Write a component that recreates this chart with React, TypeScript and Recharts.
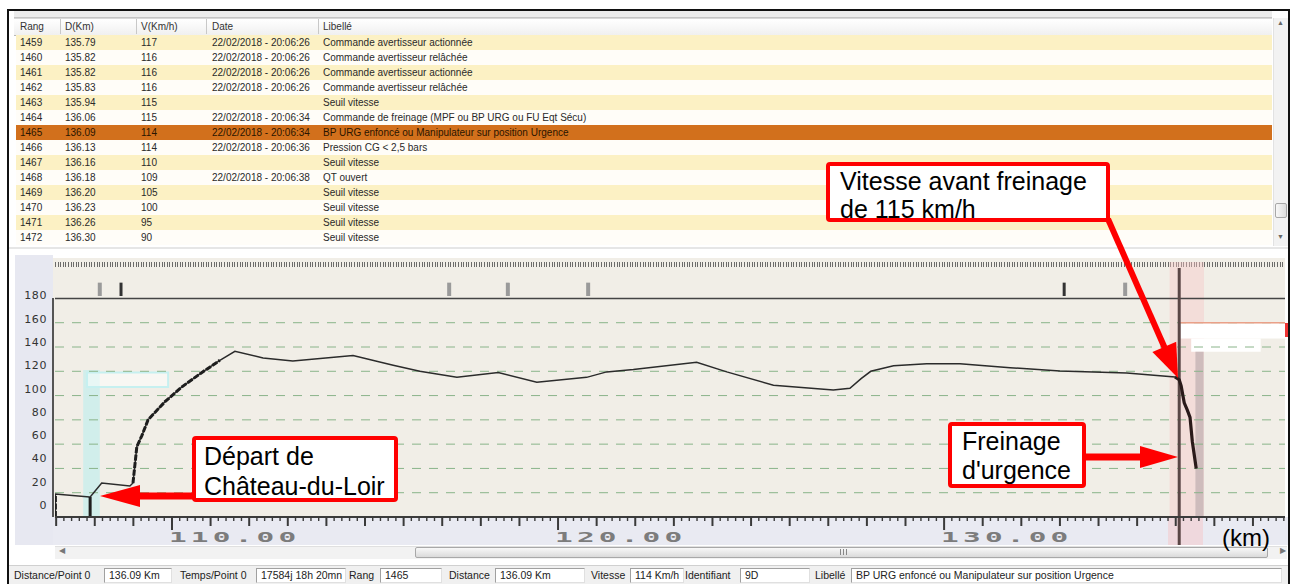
import React from "react";
import {
  Line,
  LineChart,
  ReferenceArea,
  ReferenceLine,
  XAxis,
  YAxis,
} from "recharts";

// event log rows
const rangs = ["1459", "1460", "1461", "1462", "1463", "1464", "1465", "1466", "1467", "1468", "1469", "1470", "1471", "1472"];
const distances = ["135.79", "135.82", "135.82", "135.83", "135.94", "136.06", "136.09", "136.13", "136.16", "136.18", "136.20", "136.23", "136.26", "136.30"];
const vitesses = ["117", "116", "116", "116", "115", "115", "114", "114", "110", "109", "105", "100", "95", "90"];
const dates = [
  "22/02/2018 - 20:06:26",
  "22/02/2018 - 20:06:26",
  "22/02/2018 - 20:06:26",
  "22/02/2018 - 20:06:26",
  "",
  "22/02/2018 - 20:06:34",
  "22/02/2018 - 20:06:34",
  "22/02/2018 - 20:06:36",
  "",
  "22/02/2018 - 20:06:38",
  "",
  "",
  "",
  "",
];
const libelles = [
  "Commande avertisseur actionnée",
  "Commande avertisseur relâchée",
  "Commande avertisseur actionnée",
  "Commande avertisseur relâchée",
  "Seuil vitesse",
  "Commande de freinage (MPF ou BP URG ou FU Eqt Sécu)",
  "BP URG enfoncé ou Manipulateur sur position Urgence",
  "Pression CG < 2,5 bars",
  "Seuil vitesse",
  "QT ouvert",
  "Seuil vitesse",
  "Seuil vitesse",
  "Seuil vitesse",
  "Seuil vitesse",
];
const headers = ["Rang", "D(Km)", "V(Km/h)", "Date", "Libellé"];
const selectedRang = "1465";

// speed trace (km, km/h)
const kmPoints = [
  106.98, 106.98, 107.87, 107.88, 107.88, 107.88, 108.18, 108.91, 108.99, 109.09,
  109.22, 109.38, 109.82, 110.25, 110.73, 111.24, 111.63, 112.36, 113.13, 114.69,
  115.73, 116.42, 117.38, 118.45, 119.45, 120.74, 121.26, 121.95, 123.59, 124.37,
  125.58, 127.13, 127.56, 127.85, 128.1, 128.69, 129.55, 130.41, 131.71, 133.0,
  134.73, 135.98, 136.09, 136.14, 136.22, 136.3, 136.37, 136.43, 136.53,
];
const speedPoints = [
  0, 19, 16.5, 16.5, 0, 16.5, 28, 25.5, 28, 58,
  67, 80, 95, 107, 118, 129, 136.5, 131, 128.5, 133,
  125, 120, 115, 119, 111, 115, 119.5, 121.5, 127.5, 119.5,
  108.5, 104.5, 106, 114, 120, 124.5, 126.3, 126.3, 123, 120.3,
  118.6, 115.3, 113, 108, 94, 88, 82, 62, 40,
];
// 1 = stepped acceleration trace, 2 = emergency braking trace
const tracePhase = [
  1, 1, 0, 1, 1, 1, 0, 0, 1, 1,
  1, 1, 1, 1, 1, 1, 0, 0, 0, 0,
  0, 0, 0, 0, 0, 0, 0, 0, 0, 0,
  0, 0, 0, 0, 0, 0, 0, 0, 0, 0,
  0, 2, 2, 2, 2, 2, 2, 2, 2,
];

const speedTicks = [0, 20, 40, 60, 80, 100, 120, 140, 160, 180];
const gridSpeeds = [20, 40, 60, 80, 100, 120, 140, 160];
const kmMajors = [110, 120, 130];
const kmLabels = ["110.00", "120.00", "130.00"];
const eventKms = [108.13, 108.68, 117.18, 118.7, 120.78, 133.11, 134.69];
const eventKinds = ["info", "alarm", "info", "info", "info", "alarm", "info"];
const cursorKm = 136.09;

const KM_MIN = 106.97;
const KM_MAX = 138.83;

const rulerTicks: number[] = [];
for (let i = 0; i <= 159; i++) rulerTicks.push(Math.round((107 + i * 0.2) * 10) / 10);

const data = kmPoints.map((km, i) => ({
  km,
  speed: speedPoints[i],
  climb: tracePhase[i] === 1 ? speedPoints[i] : null,
  brake: tracePhase[i] === 2 ? speedPoints[i] : null,
}));

const statusItems = [
  ["Distance/Point 0", "136.09 Km"],
  ["Temps/Point 0", "17584j 18h 20mn"],
  ["Rang", "1465"],
  ["Distance", "136.09 Km"],
  ["Vitesse", "114 Km/h"],
  ["Identifiant", "9D"],
  ["Libellé", "BP URG enfoncé ou Manipulateur sur position Urgence"],
];

const colLeft = [20, 65, 141, 212, 323];
const colSep = [60, 136, 206, 318];
const statusLabelX = [14, 180, 349, 449, 591, 685, 815];
const statusBoxX = [104, 256, 380, 495, 630, 740, 851];
const statusBoxW = [68, 90, 62, 90, 54, 70, 431];

const uiFont = '"Liberation Sans", Arial, sans-serif';

function SpeedTick(props: any) {
  const { x, y, payload } = props;
  const v = payload.value as number;
  return (
    <text
      x={x}
      y={y - 3 - (180 - v) * 0.05}
      dy={4}
      textAnchor="end"
      fontSize={11}
      fontFamily="DejaVu Sans"
      letterSpacing={0.6}
      fill="#333"
    >
      {v}
    </text>
  );
}

function RulerTick(props: any) {
  const { x, y, payload } = props;
  const v = payload.value as number;
  const major = kmMajors.indexOf(v);
  const whole = Math.abs(v - Math.round(v)) < 1e-6;
  const len = major >= 0 ? 13 : whole ? 9 : 4;
  return (
    <g>
      <line x1={x} x2={x} y1={y} y2={y + len} stroke="#3a3a3a" strokeWidth={whole ? 2 : 1.4} />
      {major >= 0 && (
        <text
          transform={`translate(${x - 3},${y + 25}) scale(2.1,1)`}
          fontFamily="DejaVu Sans Mono"
          fontWeight="bold"
          fontSize={14}
          letterSpacing={2}
          fill="#7c7c7c"
        >
          {kmLabels[major]}
        </text>
      )}
    </g>
  );
}

function Arrow({ x1, y1, x2, y2, w, hl, hw }: { x1: number; y1: number; x2: number; y2: number; w: number; hl: number; hw: number }) {
  const dx = x2 - x1;
  const dy = y2 - y1;
  const len = Math.sqrt(dx * dx + dy * dy);
  const ux = dx / len;
  const uy = dy / len;
  const bx = x2 - ux * hl;
  const by = y2 - uy * hl;
  const px = -uy * (hw / 2);
  const py = ux * (hw / 2);
  return (
    <g>
      <line x1={x1} y1={y1} x2={bx + ux * 2} y2={by + uy * 2} stroke="#ff0000" strokeWidth={w} />
      <polygon points={`${x2},${y2} ${bx + px},${by + py} ${bx - px},${by - py}`} fill="#ff0000" />
    </g>
  );
}

function Callout({ left, top, width, height, lines, padLeft, lineHeight }: { left: number; top: number; width: number; height: number; lines: string[]; padLeft: number; lineHeight: number }) {
  return (
    <div
      style={{
        position: "absolute",
        left,
        top,
        width,
        height,
        boxSizing: "border-box",
        border: "4px solid #ff0000",
        borderRadius: 4,
        background: "#fff",
        paddingLeft: padLeft,
        paddingTop: 1,
        fontFamily: uiFont,
        fontSize: 25,
        lineHeight: `${lineHeight}px`,
        color: "#000",
        whiteSpace: "nowrap",
      }}
    >
      {lines.map((l) => (
        <div key={l}>{l}</div>
      ))}
    </div>
  );
}

export default function App() {
  return (
    <div
      style={{
        position: "fixed",
        left: 0,
        top: 0,
        width: 1292,
        height: 584,
        background: "#fff",
        overflow: "hidden",
        fontFamily: uiFont,
      }}
    >
      {/* table strip + header */}
      <div style={{ position: "absolute", left: 14, top: 11, width: 1258, height: 6, background: "#ececec", borderBottom: "1px solid #c4c4c4" }} />
      <div style={{ position: "absolute", left: 14, top: 18, width: 1258, height: 16, background: "linear-gradient(#ffffff,#f0f0f0)", borderBottom: "1px solid #b8b8b8", borderTop: "1px solid #d8d8d8" }} />
      {colSep.map((x) => (
        <div key={x} style={{ position: "absolute", left: x, top: 19, width: 1, height: 15, background: "#c8c8c8" }} />
      ))}
      {headers.map((h, i) => (
        <div key={h} style={{ position: "absolute", left: colLeft[i], top: 20, fontSize: 10, lineHeight: "13px", color: "#333" }}>
          {h}
        </div>
      ))}
      {rangs.map((r, i) => {
        const sel = r === selectedRang;
        const bg = sel ? "#d2701c" : i % 2 === 0 ? "#fcf1c4" : "#fffdf8";
        const vals = [r, distances[i], vitesses[i], dates[i], libelles[i]];
        return (
          <div key={r} style={{ position: "absolute", left: 16, top: 35 + i * 15, width: 1256, height: 15, background: bg }}>
            {vals.map((v, j) => (
              <div key={j} style={{ position: "absolute", left: colLeft[j] - 16, top: 1, fontSize: 10, lineHeight: "13px", color: sel ? "#2a1500" : "#2a2a2a", whiteSpace: "nowrap" }}>
                {v}
              </div>
            ))}
          </div>
        );
      })}
      {/* vertical scrollbar */}
      <div style={{ position: "absolute", left: 1273, top: 18, width: 15, height: 228, background: "#f2f2f2", borderLeft: "1px solid #e2e2e2" }} />
      <div style={{ position: "absolute", left: 1277, top: 19, fontSize: 7, color: "#666" }}>▲</div>
      <div style={{ position: "absolute", left: 1277, top: 233, fontSize: 7, color: "#666" }}>▼</div>
      <div style={{ position: "absolute", left: 1275, top: 203, width: 12, height: 15, boxSizing: "border-box", border: "1px solid #a8a8a8", borderRadius: 2, background: "linear-gradient(90deg,#f8f8f8,#dcdcdc)" }} />

      {/* chart panel backgrounds */}
      <div style={{ position: "absolute", left: 9, top: 247, width: 1279, height: 2, background: "#e6e6e6" }} />
      <div style={{ position: "absolute", left: 15, top: 255, width: 38, height: 290, background: "#e7e8f1" }} />
      <div style={{ position: "absolute", left: 53, top: 258, width: 1232, height: 259, background: "#f1eee7" }} />
      <div style={{ position: "absolute", left: 53, top: 517, width: 1235, height: 28, background: "#e9eaf2" }} />
      <div
        style={{
          position: "absolute",
          left: 55,
          top: 262,
          width: 1230,
          height: 5,
          background: "repeating-linear-gradient(90deg,#4a4a4a 0px,#4a4a4a 1px,transparent 1px,transparent 2.6px)",
          opacity: 0.8,
        }}
      />
      <div style={{ position: "absolute", left: 52, top: 298, width: 2, height: 219, background: "#555" }} />
      <div style={{ position: "absolute", left: 1168, top: 517, width: 35, height: 28, background: "rgba(246,196,196,0.45)" }} />
      <div style={{ position: "absolute", left: 1285, top: 323, width: 3, height: 14, background: "#e33" }} />

      <div style={{ position: "absolute", left: 0, top: 250 }}>
        <LineChart width={1292} height={300} data={data} margin={{ top: 12, right: 7, left: 0, bottom: 0 }}>
          <XAxis
            dataKey="km"
            type="number"
            domain={[KM_MIN, KM_MAX]}
            allowDataOverflow
            ticks={rulerTicks}
            interval={0}
            tick={(p: any) => <RulerTick {...p} />}
            tickLine={false}
            tickSize={0}
            tickMargin={0}
            height={33}
            axisLine={{ stroke: "#3c3c3c", strokeWidth: 2 }}
          />
          <YAxis
            type="number"
            domain={[0, 210]}
            allowDataOverflow
            ticks={speedTicks}
            interval={0}
            tick={(p: any) => <SpeedTick {...p} />}
            axisLine={false}
            tickLine={false}
            tickSize={6}
            tickMargin={2}
            width={55}
          />
          <ReferenceArea x1={135.84} x2={136.73} y1={0} y2={210} fill="#f6c6c6" fillOpacity={0.42} stroke="none" />
          <ReferenceArea x1={107.7} x2={108.13} y1={0} y2={121} fill="#bdeeee" fillOpacity={0.6} stroke="none" />
          <ReferenceArea x1={107.8} x2={109.9} y1={107} y2={119} fill="#ffffff" stroke="#c6f0f0" strokeWidth={2} />
          {gridSpeeds.map((v) => (
            <ReferenceLine key={v} y={v} stroke="#8ab48a" strokeDasharray="9 8" strokeWidth={1} />
          ))}
          <ReferenceLine y={180} stroke="#444" strokeWidth={1.5} />
          <ReferenceArea x1={136.12} x2={KM_MAX} y1={147} y2={159.5} fill="#ffffff" fillOpacity={1} stroke="none" />
          <ReferenceArea x1={136.4} x2={138.2} y1={136} y2={147} fill="#ffffff" fillOpacity={1} stroke="none" />
          <ReferenceLine segment={[{ x: 136.1, y: 160 }, { x: KM_MAX, y: 160 }]} stroke="#eaa088" strokeWidth={1.5} />
          <ReferenceArea x1={136.51} x2={136.72} y1={0} y2={136} fill="#c4b4b4" fillOpacity={0.8} stroke="none" />
          {eventKms.map((km, i) => (
            <ReferenceLine
              key={km}
              segment={[{ x: km, y: 182 }, { x: km, y: 193 }]}
              stroke={eventKinds[i] === "alarm" ? "#333" : "#9a9a9a"}
              strokeWidth={eventKinds[i] === "alarm" ? 3 : 4}
            />
          ))}
          <ReferenceLine
            segment={[{ x: cursorKm, y: -23 }, { x: cursorKm, y: 205 }]}
            stroke="#5a4646"
            strokeWidth={3}
            ifOverflow="visible"
          />
          <Line type="linear" dataKey="speed" stroke="#2b2b2b" strokeWidth={1.5} dot={false} isAnimationActive={false} />
          <Line type="linear" dataKey="climb" stroke="#1e1e1e" strokeWidth={3} strokeDasharray="6 1.5" dot={false} isAnimationActive={false} />
          <Line type="linear" dataKey="brake" stroke="#2a1a1a" strokeWidth={3.2} dot={false} isAnimationActive={false} />
        </LineChart>
      </div>

      {/* horizontal scrollbar */}
      <div style={{ position: "absolute", left: 55, top: 546, width: 1232, height: 12, background: "#f2f2f2", borderTop: "1px solid #e0e0e0" }} />
      <div style={{ position: "absolute", left: 59, top: 546, fontSize: 8, color: "#777" }}>◀</div>
      <div style={{ position: "absolute", left: 1280, top: 546, fontSize: 8, color: "#777" }}>▶</div>
      <div style={{ position: "absolute", left: 415, top: 547, width: 853, height: 11, boxSizing: "border-box", border: "1px solid #a8a8a8", borderRadius: 2, background: "linear-gradient(#f8f8f8,#dadada)" }} />
      <div style={{ position: "absolute", left: 840, top: 549, width: 7, height: 6, background: "repeating-linear-gradient(90deg,#888 0px,#888 1px,transparent 1px,transparent 3px)" }} />

      {/* status bar */}
      <div style={{ position: "absolute", left: 9, top: 565, width: 1279, height: 19, background: "#f0f0f0", borderTop: "1px solid #d0d0d0" }} />
      {statusItems.map(([label, value], i) => (
        <React.Fragment key={label}>
          <div style={{ position: "absolute", left: statusBoxX[i], top: 568, width: statusBoxW[i], height: 15, boxSizing: "border-box", background: "#fff", borderTop: "1px solid #a0a0a0", borderLeft: "1px solid #a0a0a0", borderRight: "1px solid #e0e0e0", borderBottom: "1px solid #e0e0e0" }} />
          <div style={{ position: "absolute", left: statusBoxX[i] + 5, top: 569, fontSize: 10.5, lineHeight: "13px", color: "#222", whiteSpace: "nowrap" }}>{value}</div>
          <div style={{ position: "absolute", left: statusLabelX[i], top: 569, fontSize: 10.5, lineHeight: "13px", color: "#222", whiteSpace: "nowrap" }}>{label}</div>
        </React.Fragment>
      ))}

      {/* outer frame */}
      <div style={{ position: "absolute", left: 7, top: 9, width: 1283, height: 600, border: "2px solid #111", boxSizing: "border-box" }} />

      {/* annotations */}
      <svg width={1292} height={584} style={{ position: "absolute", left: 0, top: 0, pointerEvents: "none" }}>
        <Arrow x1={1108} y1={219} x2={1178} y2={378} w={6} hl={34} hw={26} />
        <Arrow x1={194} y1={496} x2={100} y2={496} w={7} hl={40} hw={22} />
        <Arrow x1={1085} y1={457} x2={1178} y2={457} w={7} hl={38} hw={22} />
      </svg>
      <Callout left={826} top={162} width={284} height={60} lines={["Vitesse avant freinage", "de 115 km/h"]} padLeft={10} lineHeight={28} />
      <Callout left={192} top={436} width={206} height={66} lines={["Départ de", "Château-du-Loir"]} padLeft={8} lineHeight={30} />
      <Callout left={948} top={422} width={138} height={66} lines={["Freinage", "d'urgence"]} padLeft={10} lineHeight={29} />
      <div style={{ position: "absolute", left: 1222, top: 526, fontSize: 24, lineHeight: "24px", color: "#000", fontFamily: uiFont }}>(km)</div>
    </div>
  );
}
